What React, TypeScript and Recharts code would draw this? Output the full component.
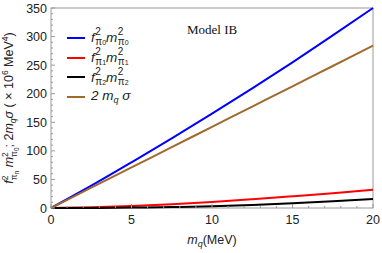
import { LineChart, Line, XAxis, YAxis, Legend, Customized } from "recharts";

const mq = [0, 2.5, 5, 7.5, 10, 12.5, 15, 17.5, 20];
const pi0 = [0, 39, 80, 122, 165, 209.5, 255, 302, 350];
const pi1 = [0, 1.5, 3.5, 6.7, 10.5, 15.3, 20.5, 26, 32];
const pi2 = [0, 0.1, 0.7, 1.6, 3, 5.3, 8.2, 11.8, 15.8];
const sigma = [0, 35.5, 71, 106.5, 142, 177.5, 213, 248.5, 284];

const xTicks = Array.from({ length: 21 }, (_, i) => i);
const yTicks = Array.from({ length: 36 }, (_, i) => i * 10);

const data = mq.map((m, i) => ({
  mq: m,
  pi0: pi0[i],
  pi1: pi1[i],
  pi2: pi2[i],
  sigma: sigma[i],
}));

const FRAME = "#9a9a9a";
const SANS = "'Liberation Sans', Arial, sans-serif";

function BottomTick({ x, y, payload, labels }: any) {
  const major = payload.value % 5 === 0;
  return (
    <g>
      <line x1={x} x2={x} y1={y} y2={y - (major ? 4 : 2)} stroke={FRAME} />
      {labels && major && (
        <text x={x} y={y + 16} textAnchor="middle" fontSize={12.5} fontFamily={SANS} fill="#222">
          {payload.value}
        </text>
      )}
    </g>
  );
}

function TopTick({ x, y, payload }: any) {
  const major = payload.value % 5 === 0;
  return <line x1={x} x2={x} y1={y} y2={y + (major ? 4 : 2)} stroke={FRAME} />;
}

function LeftTick({ x, y, payload }: any) {
  const major = payload.value % 50 === 0;
  return (
    <g>
      <line x1={x} x2={x + (major ? 4 : 2)} y1={y} y2={y} stroke={FRAME} />
      {major && (
        <text x={x - 4} y={y} dy="0.36em" textAnchor="end" fontSize={12.5} fontFamily={SANS} fill="#222">
          {payload.value}
        </text>
      )}
    </g>
  );
}

function RightTick({ x, y, payload }: any) {
  const major = payload.value % 50 === 0;
  return <line x1={x} x2={x - (major ? 4 : 2)} y1={y} y2={y} stroke={FRAME} />;
}

function Stack({ sub }: { sub: string }) {
  return (
    <span
      style={{
        display: "inline-flex",
        flexDirection: "column",
        fontSize: 10,
        lineHeight: "10px",
        verticalAlign: "middle",
        fontStyle: "normal",
        marginLeft: 0.5,
      }}
    >
      <span>2</span>
      <span>
        π<span style={{ fontSize: 7 }}>{sub}</span>
      </span>
    </span>
  );
}

const legendItems = [
  { color: "#0000ff", sub: "0" },
  { color: "#ff0000", sub: "1" },
  { color: "#000000", sub: "2" },
];

function LegendBox() {
  return (
    <div style={{ fontFamily: SANS, fontSize: 13.5, color: "#222" }}>
      {legendItems.map((it) => (
        <div key={it.sub} style={{ display: "flex", alignItems: "center", height: 19.7 }}>
          <div style={{ width: 18, height: 2, background: it.color, marginRight: 6 }} />
          <span style={{ fontStyle: "italic" }}>f</span>
          <Stack sub={it.sub} />
          <span style={{ fontStyle: "italic" }}>m</span>
          <Stack sub={it.sub} />
        </div>
      ))}
      <div style={{ display: "flex", alignItems: "center", height: 19.7 }}>
        <div style={{ width: 18, height: 2, background: "#a0692d", marginRight: 6 }} />
        <span style={{ fontStyle: "italic" }}>
          2 m<span style={{ fontSize: 9, verticalAlign: "-3px" }}>q</span> σ
        </span>
      </div>
    </div>
  );
}

function Extras() {
  return (
    <g>
      <rect x={51} y={8} width={322} height={200} fill="none" stroke={FRAME} />
      <text x={187} y={34} fontSize={13} fontFamily="'Liberation Serif', serif" fill="#111">
        Model IB
      </text>
      <text x={212} y={244} textAnchor="middle" fontSize={12.5} fontFamily={SANS} fill="#222">
        <tspan fontStyle="italic">m</tspan>
        <tspan fontStyle="italic" fontSize={9} dy={3}>q</tspan>
        <tspan dy={-3}>(MeV)</tspan>
      </text>
      <text
        x={13}
        y={108}
        textAnchor="middle"
        fontSize={12.5}
        fontFamily={SANS}
        fill="#222"
        transform="rotate(-90, 13, 108)"
      >
        <tspan fontStyle="italic">f</tspan>
        <tspan fontSize={8.5} dy={-5}>2</tspan>
        <tspan fontSize={8.5} dx={-4.8} dy={9}>π</tspan>
        <tspan fontSize={6.5} dy={1.5}>n</tspan>
        <tspan fontStyle="italic" dy={-5.5}> m</tspan>
        <tspan fontSize={8.5} dy={-5}>2</tspan>
        <tspan fontSize={8.5} dx={-4.8} dy={9}>π</tspan>
        <tspan fontSize={6.5} dy={1.5}>0</tspan>
        <tspan dy={-5.5}>; 2</tspan>
        <tspan fontStyle="italic">m</tspan>
        <tspan fontStyle="italic" fontSize={8.5} dy={3}>q</tspan>
        <tspan fontStyle="italic" dy={-3}>σ</tspan>
        <tspan> ( × 10</tspan>
        <tspan fontSize={8.5} dy={-5}>6</tspan>
        <tspan dy={5}> MeV</tspan>
        <tspan fontSize={8.5} dy={-5}>4</tspan>
        <tspan dy={5}>)</tspan>
      </text>
    </g>
  );
}

export default function App() {
  return (
    <div style={{ position: "absolute", left: 0, top: 0, background: "#fff" }}>
      <LineChart width={382} height={253} data={data} margin={{ top: 8, right: 9, bottom: 0, left: 0 }}>
        <XAxis
          dataKey="mq"
          type="number"
          domain={[0, 20]}
          ticks={xTicks}
          interval={0}
          height={45}
          axisLine={false}
          tickLine={false}
          tickSize={0}
          tickMargin={0}
          tick={<BottomTick labels />}
        />
        <XAxis
          xAxisId="top"
          dataKey="mq"
          type="number"
          orientation="top"
          domain={[0, 20]}
          ticks={xTicks}
          interval={0}
          height={0}
          axisLine={false}
          tickLine={false}
          tickSize={0}
          tickMargin={0}
          tick={<TopTick />}
        />
        <YAxis
          type="number"
          domain={[0, 350]}
          ticks={yTicks}
          interval={0}
          width={51}
          axisLine={false}
          tickLine={false}
          tickSize={0}
          tickMargin={0}
          tick={<LeftTick />}
        />
        <YAxis
          yAxisId="right"
          type="number"
          orientation="right"
          domain={[0, 350]}
          ticks={yTicks}
          interval={0}
          width={0}
          axisLine={false}
          tickLine={false}
          tickSize={0}
          tickMargin={0}
          tick={<RightTick />}
        />
        <Legend
          layout="vertical"
          align="center"
          verticalAlign="middle"
          content={<LegendBox />}
          wrapperStyle={{ left: 67, top: 28, width: "auto" }}
        />
        <Line dataKey="pi0" type="monotone" stroke="#0000ff" strokeWidth={2} dot={false} isAnimationActive={false} />
        <Line dataKey="pi1" type="monotone" stroke="#ff0000" strokeWidth={2} dot={false} isAnimationActive={false} />
        <Line dataKey="pi2" type="monotone" stroke="#000000" strokeWidth={2} dot={false} isAnimationActive={false} />
        <Line dataKey="sigma" type="monotone" stroke="#a0692d" strokeWidth={2} dot={false} isAnimationActive={false} />
        <Customized component={Extras} />
      </LineChart>
    </div>
  );
}
